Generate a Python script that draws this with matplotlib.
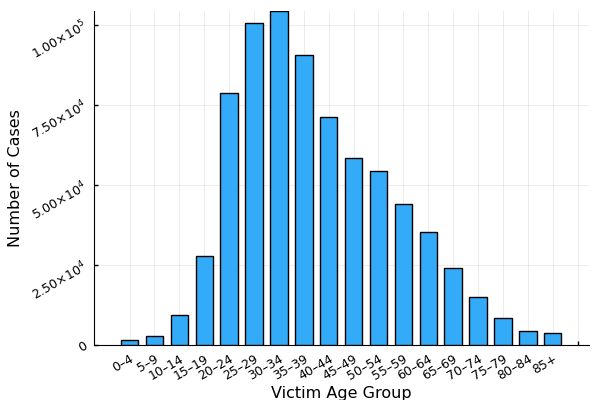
import matplotlib
matplotlib.use("Agg")
import matplotlib.pyplot as plt

# data
age_groups = ['0–4', '5–9', '10–14', '15–19', '20–24', '25–29', '30–34', '35–39',
              '40–44', '45–49', '50–54', '55–59', '60–64', '65–69', '70–74',
              '75–79', '80–84', '85+']
cases = [1450, 2900, 9300, 27800, 78800, 100700, 104200, 90500, 71350,
         58300, 54200, 44000, 35300, 24000, 14900, 8340, 4470, 3750]
y_ticks = [0, 25000, 50000, 75000, 100000]
y_tick_labels = ['0', '2.50×10$^{4}$', '5.00×10$^{4}$',
                 '7.50×10$^{4}$', '1.00×10$^{5}$']

fig = plt.figure(figsize=(6, 4), dpi=100)
ax = fig.add_axes([0.157, 0.1375, 0.824, 0.834])

pos = list(range(1, len(age_groups) + 1))
ax.bar(pos, cases, width=0.7, color='#34abf8', edgecolor='black',
       linewidth=1.0, zorder=3)

# ticks (one extra, empty, at the end like the original)
ax.set_xticks(pos + [len(age_groups) + 1])
ax.set_xticklabels(age_groups + [''], rotation=30, ha='right', va='top',
                   rotation_mode='anchor', fontsize=9)
ax.set_yticks(y_ticks)
ax.set_yticklabels(y_tick_labels, rotation=30, ha='right', va='center',
                   rotation_mode='anchor', fontsize=9)
ax.tick_params(direction='in', length=3, width=1)
ax.tick_params(axis='x', pad=5)
ax.tick_params(axis='y', pad=6)

ax.set_xlim(-0.42, 19.44)
ax.set_ylim(0, max(cases))

ax.grid(True, color='black', alpha=0.1, linewidth=0.5, zorder=0)
ax.spines['top'].set_visible(False)
ax.spines['right'].set_visible(False)

ax.set_xlabel('Victim Age Group', fontsize=11.5, labelpad=3)
ax.set_ylabel('Number of Cases', fontsize=11.5, labelpad=4)

fig.savefig('out.png', dpi=100)
